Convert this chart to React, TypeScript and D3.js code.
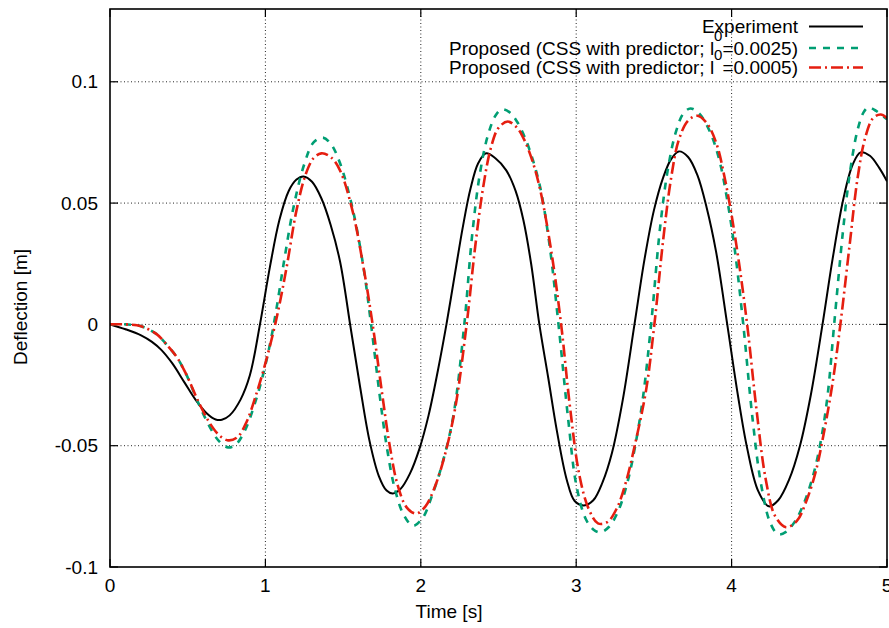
import React from 'react';
import * as d3 from 'd3';

const W = 889;
const H = 628;

// Axis ticks
const xTicks = [0, 1, 2, 3, 4, 5];
const xTickLabels = ['0', '1', '2', '3', '4', '5'];
const yTicks = [-0.1, -0.05, 0, 0.05, 0.1];
const yTickLabels = ['-0.1', '-0.05', '0', '0.05', '0.1'];

// Measured tip deflection (time [s], deflection [m])
const experiment: [number, number][] = [
  [0, 0], [0.1, -0.002], [0.2, -0.0045], [0.27, -0.0072], [0.33, -0.0105], [0.4, -0.016],
  [0.48, -0.024], [0.55, -0.031], [0.62, -0.0365], [0.68, -0.0392], [0.72, -0.0393],
  [0.77, -0.0375], [0.84, -0.031], [0.9, -0.021], [0.965, 0.0], [1.03, 0.024],
  [1.09, 0.043], [1.15, 0.055], [1.2, 0.0597], [1.245, 0.061], [1.3, 0.0588],
  [1.36, 0.052], [1.42, 0.041], [1.48, 0.026], [1.55, -0.002], [1.61, -0.026],
  [1.67, -0.048], [1.73, -0.0625], [1.78, -0.0685], [1.82, -0.0697], [1.87, -0.0678],
  [1.93, -0.0615], [1.99, -0.0515], [2.05, -0.0375], [2.11, -0.019], [2.165, 0.0],
  [2.22, 0.021], [2.27, 0.04], [2.32, 0.056], [2.37, 0.0665], [2.42, 0.0705],
  [2.48, 0.0685], [2.55, 0.0635], [2.61, 0.055], [2.66, 0.043], [2.71, 0.025],
  [2.763, 0.0], [2.82, -0.022], [2.876, -0.044], [2.939, -0.064], [2.99, -0.0728],
  [3.05, -0.0746], [3.11, -0.0725], [3.17, -0.065], [3.23, -0.053], [3.3, -0.031],
  [3.375, 0.0], [3.44, 0.027], [3.5, 0.047], [3.56, 0.0606], [3.61, 0.068],
  [3.66, 0.0713], [3.72, 0.069], [3.78, 0.0615], [3.84, 0.048], [3.9, 0.03],
  [3.972, 0.0], [4.04, -0.029], [4.1, -0.051], [4.17, -0.0685], [4.24, -0.075],
  [4.3, -0.0725], [4.37, -0.064], [4.44, -0.05], [4.51, -0.029], [4.585, 0.0],
  [4.65, 0.027], [4.72, 0.052], [4.78, 0.066], [4.83, 0.0709], [4.89, 0.0695],
  [4.95, 0.0645], [5.0, 0.059],
];

// Simulation, l0 = 0.0025
const proposedL0025: [number, number][] = [
  [0, 0], [0.1, 0], [0.2, -0.0008], [0.3, -0.004], [0.36, -0.008], [0.43, -0.0135],
  [0.49, -0.0205], [0.57, -0.0326], [0.64, -0.042], [0.7, -0.048], [0.76, -0.0507],
  [0.81, -0.0495], [0.87, -0.0435], [0.93, -0.033], [0.98, -0.022], [1.03, -0.008],
  [1.07, 0.006], [1.12, 0.026], [1.18, 0.048], [1.25, 0.066], [1.31, 0.075],
  [1.37, 0.077], [1.42, 0.0745], [1.48, 0.0665], [1.56, 0.048], [1.63, 0.024],
  [1.68, 0.0], [1.735, -0.029], [1.78, -0.05], [1.83, -0.067], [1.89, -0.0785],
  [1.95, -0.083], [2.01, -0.08], [2.07, -0.071], [2.14, -0.057], [2.21, -0.0375],
  [2.28, 0.0], [2.33, 0.0365], [2.38, 0.062], [2.43, 0.0775], [2.48, 0.086],
  [2.52, 0.0886], [2.57, 0.0875], [2.62, 0.0835], [2.67, 0.077], [2.72, 0.068],
  [2.77, 0.056], [2.83, 0.032], [2.886, 0.0], [2.95, -0.04], [3.0, -0.066],
  [3.06, -0.08], [3.11, -0.0845], [3.155, -0.0857], [3.21, -0.0835], [3.27, -0.077],
  [3.33, -0.065], [3.38, -0.05], [3.43, -0.03], [3.482, 0.0], [3.54, 0.04],
  [3.59, 0.064], [3.64, 0.079], [3.69, 0.087], [3.735, 0.089], [3.79, 0.087],
  [3.86, 0.0795], [3.92, 0.068], [3.97, 0.052], [4.02, 0.031], [4.075, 0.0],
  [4.135, -0.039], [4.19, -0.066], [4.25, -0.082], [4.3, -0.0865], [4.35, -0.0855],
  [4.41, -0.081], [4.47, -0.073], [4.53, -0.061], [4.58, -0.046], [4.62, -0.028],
  [4.66, 0.0], [4.716, 0.038], [4.76, 0.062], [4.81, 0.08], [4.85, 0.0875],
  [4.88, 0.0895], [4.93, 0.088], [5.0, 0.0845],
];

// Simulation, l0 = 0.0005
const proposedL0005: [number, number][] = [
  [0, 0], [0.1, 0], [0.2, -0.0008], [0.3, -0.004], [0.36, -0.008], [0.43, -0.0135],
  [0.49, -0.0205], [0.57, -0.032], [0.64, -0.0405], [0.7, -0.0455], [0.76, -0.0478],
  [0.82, -0.0465], [0.88, -0.04], [0.94, -0.029], [1.0, -0.016], [1.07, 0.002],
  [1.135, 0.023], [1.2, 0.047], [1.26, 0.062], [1.31, 0.0685], [1.36, 0.0705],
  [1.42, 0.069], [1.48, 0.0635], [1.56, 0.047], [1.63, 0.024], [1.69, 0.0],
  [1.75, -0.028], [1.8, -0.05], [1.85, -0.066], [1.91, -0.0755], [1.97, -0.078],
  [2.03, -0.075], [2.09, -0.067], [2.15, -0.055], [2.22, -0.035], [2.295, 0.0],
  [2.35, 0.032], [2.4, 0.056], [2.45, 0.0725], [2.5, 0.081], [2.56, 0.0836],
  [2.62, 0.081], [2.67, 0.0755], [2.72, 0.067], [2.77, 0.055], [2.84, 0.03],
  [2.903, 0.0], [2.96, -0.034], [3.02, -0.062], [3.08, -0.076], [3.14, -0.082],
  [3.2, -0.0815], [3.26, -0.076], [3.32, -0.065], [3.38, -0.049], [3.45, -0.027],
  [3.503, 0.0], [3.56, 0.035], [3.61, 0.06], [3.66, 0.076], [3.72, 0.084],
  [3.78, 0.086], [3.84, 0.083], [3.9, 0.075], [3.96, 0.059], [4.03, 0.033],
  [4.1, 0.0], [4.16, -0.035], [4.22, -0.064], [4.28, -0.079], [4.35, -0.0836],
  [4.42, -0.081], [4.48, -0.073], [4.54, -0.061], [4.59, -0.046], [4.65, -0.024],
  [4.7, 0.0], [4.76, 0.033], [4.81, 0.06], [4.86, 0.077], [4.91, 0.085],
  [4.96, 0.0865], [5.0, 0.085],
];

const legendLabels = [
  { pre: 'Experiment', sup: '', post: '' },
  { pre: 'Proposed (CSS with predictor; l', sup: '0', post: '=0.0025)' },
  { pre: 'Proposed (CSS with predictor; l', sup: '0', post: '=0.0005)' },
];

const FONT = '"Liberation Sans", Arial, Helvetica, sans-serif';

export default function App() {
  const left = 110;
  const right = 887;
  const top = 9;
  const bottom = 567;

  const x = d3.scaleLinear().domain([0, 5]).range([left, right]);
  const y = d3.scaleLinear().domain([-0.1, 0.13]).range([bottom, top]);

  const line = d3
    .line<[number, number]>()
    .x((d) => x(d[0]))
    .y((d) => y(d[1]))
    .curve(d3.curveCatmullRom.alpha(0.5));

  const series = [
    { data: experiment, color: '#000000', width: 2, dash: undefined as string | undefined },
    { data: proposedL0025, color: '#009e73', width: 2.6, dash: '7,7' },
    { data: proposedL0005, color: '#e51e10', width: 2.6, dash: '12,4,2,4' },
  ];

  const tickLen = 8;
  const legendRowsY = [33, 54.5, 74];
  const legendTextX = 798;
  const legendLineX0 = 809;
  const legendLineX1 = 863;

  return (
    <svg
      width={W}
      height={H}
      viewBox={`0 0 ${W} ${H}`}
      style={{ position: 'absolute', left: 0, top: 0, background: '#fff' }}
      fontFamily={FONT}
    >
      <rect x={0} y={0} width={W} height={H} fill="#fff" />
      <defs>
        <clipPath id="plot-area">
          <rect x={left} y={top} width={right - left} height={bottom - top} />
        </clipPath>
      </defs>

      {/* grid */}
      <g stroke="#000" strokeWidth={1} strokeDasharray="1,2.5" opacity={0.85}>
        {xTicks
          .filter((t) => t > 0 && t < 5)
          .map((t) => (
            <line key={`gx${t}`} x1={x(t)} x2={x(t)} y1={top} y2={bottom} />
          ))}
        {yTicks
          .filter((v) => v > -0.1)
          .map((v) => (
            <line key={`gy${v}`} x1={left} x2={right} y1={y(v)} y2={y(v)} />
          ))}
      </g>

      {/* tick marks */}
      <g stroke="#000" strokeWidth={1.2}>
        {xTicks.map((t) => (
          <g key={`tx${t}`}>
            <line x1={x(t)} x2={x(t)} y1={bottom} y2={bottom - tickLen} />
            <line x1={x(t)} x2={x(t)} y1={top} y2={top + tickLen} />
          </g>
        ))}
        {yTicks.map((v) => (
          <g key={`ty${v}`}>
            <line x1={left} x2={left + tickLen} y1={y(v)} y2={y(v)} />
            <line x1={right} x2={right - tickLen} y1={y(v)} y2={y(v)} />
          </g>
        ))}
      </g>

      {/* curves */}
      <g clipPath="url(#plot-area)" fill="none">
        {series.map((s, i) => (
          <path
            key={i}
            d={line(s.data) || ''}
            stroke={s.color}
            strokeWidth={s.width}
            strokeDasharray={s.dash}
            strokeLinejoin="round"
          />
        ))}
      </g>

      {/* frame */}
      <rect
        x={left}
        y={top}
        width={right - left}
        height={bottom - top}
        fill="none"
        stroke="#000"
        strokeWidth={1.6}
      />

      {/* tick labels */}
      <g fontSize={19} fill="#000">
        {xTicks.map((t, i) => (
          <text key={`lx${t}`} x={x(t)} y={592} textAnchor="middle">
            {xTickLabels[i]}
          </text>
        ))}
        {yTicks.map((v, i) => (
          <text key={`ly${v}`} x={98} y={y(v) + 6.5} textAnchor="end">
            {yTickLabels[i]}
          </text>
        ))}
      </g>

      {/* axis titles */}
      <text x={449} y={618} fontSize={19} textAnchor="middle" fill="#000">
        Time [s]
      </text>
      <text
        transform={`translate(27,307) rotate(-90)`}
        fontSize={19}
        textAnchor="middle"
        fill="#000"
      >
        Deflection [m]
      </text>

      {/* legend */}
      <g fill="#000">
        {legendLabels.map((lab, i) => (
          <g key={`leg${i}`}>
            <text x={legendTextX} y={legendRowsY[i]} fontSize={19} textAnchor="end">
              {lab.pre}
              {lab.sup && (
                <tspan dy={-14} fontSize={15}>
                  {lab.sup}
                </tspan>
              )}
              {lab.post && <tspan dy={14}>{lab.post}</tspan>}
            </text>
            <line
              x1={legendLineX0}
              x2={legendLineX1}
              y1={legendRowsY[i] - 6.5}
              y2={legendRowsY[i] - 6.5}
              stroke={series[i].color}
              strokeWidth={series[i].width}
              strokeDasharray={series[i].dash}
            />
          </g>
        ))}
      </g>
    </svg>
  );
}
